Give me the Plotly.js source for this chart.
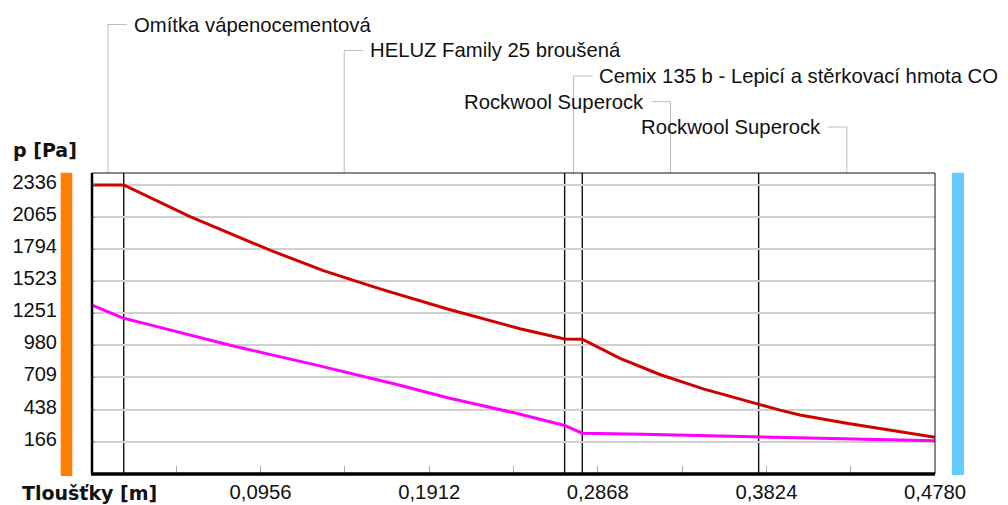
<!DOCTYPE html>
<html>
<head>
<meta charset="utf-8">
<script src="https://cdn.plot.ly/plotly-3.0.1.min.js"></script>
<style>
html,body{margin:0;padding:0;background:#fff;}
#chart{width:1008px;height:505px;}
</style>
</head>
<body>
<div id="chart"></div>
<script>
// ---- data ----
const layerNames = ['Omítka vápenocementová', 'HELUZ Family 25 broušená', 'Cemix 135 b - Lepicí a stěrkovací hmota CO', 'Rockwool Superock', 'Rockwool Superock'];
const layerThickness = [0.018, 0.25, 0.01, 0.1, 0.1];

const satX = [0, 0.018, 0.0556, 0.1009, 0.1312, 0.1633, 0.2016, 0.2427, 0.268, 0.278, 0.2994, 0.322, 0.3466, 0.3775, 0.3901, 0.4014, 0.428, 0.478];
const satP = [2336, 2336, 2068, 1785, 1612, 1458, 1288, 1121, 1034, 1032, 870, 734, 612, 482, 433, 392, 322, 203];

const parX = [0, 0.018, 0.0329, 0.0801, 0.1273, 0.1746, 0.2016, 0.2394, 0.268, 0.278, 0.3125, 0.359, 0.406, 0.4536, 0.478];
const parP = [1321, 1209, 1153, 975, 813, 643, 538, 410, 303, 238, 228, 214, 196, 180, 175];

const yTickVals = [166, 438, 709, 980, 1251, 1523, 1794, 2065, 2336];
const yTickLabels = ['166', '438', '709', '980', '1251', '1523', '1794', '2065', '2336'];
const xTickVals = [0.0478, 0.0956, 0.1434, 0.1912, 0.2390, 0.2868, 0.3346, 0.3824, 0.4302, 0.4780];
const xTickLabels = ['', '0,0956', '', '0,1912', '', '0,2868', '', '0,3824', '', '0,4780'];

const yAxisLabel = 'p [Pa]';
const xAxisLabel = 'Tloušťky [m]';

// ---- layout helpers ----
const plotTop = 173, plotBottom = 474, plotLeft = 92, plotRight = 935;
const plotH = plotBottom - plotTop, plotW = plotRight - plotLeft;
const py = p => (plotBottom - p) / plotH;   // pixel y -> paper y
const px = p => (p - plotLeft) / plotW;     // pixel x -> paper x

const bounds = [0];
layerThickness.forEach(t => bounds.push(bounds[bounds.length - 1] + t));
const centers = layerThickness.map((t, i) => (bounds[i] + bounds[i + 1]) / 2);

const labelRowsPx = [24.5, 50.5, 76, 101.7, 127];
const labelSide = [1, 1, 1, -1, -1];

const shapes = [];
const annotations = [];
const leaderColor = '#bdbdbd';
const txtFont = {family: 'Liberation Sans, Arial, sans-serif', size: 20.3, color: '#111'};

layerNames.forEach((name, i) => {
  const yy = py(labelRowsPx[i]);
  shapes.push({type: 'line', xref: 'x', yref: 'paper', x0: centers[i], x1: centers[i], y0: 1, y1: yy,
    line: {color: leaderColor, width: 1}});
  shapes.push({type: 'line', xref: 'x', yref: 'paper', xsizemode: 'pixel', xanchor: centers[i],
    x0: 0, x1: labelSide[i] * 19, y0: yy, y1: yy, line: {color: leaderColor, width: 1}});
  annotations.push({text: name, xref: 'x', yref: 'paper', x: centers[i], y: yy,
    xanchor: labelSide[i] > 0 ? 'left' : 'right', yanchor: 'middle',
    xshift: labelSide[i] * 24, showarrow: false, font: txtFont});
});

// layer boundaries
bounds.slice(1, -1).forEach(b => {
  shapes.push({type: 'line', xref: 'x', yref: 'paper', x0: b, x1: b, y0: 0, y1: 1,
    layer: 'between', line: {color: '#111', width: 1.4}});
});

// frame
shapes.push({type: 'rect', xref: 'paper', yref: 'paper', x0: 0, x1: 1, y0: 0, y1: 1,
  line: {color: '#111', width: 1}});
shapes.push({type: 'line', xref: 'paper', yref: 'paper', x0: 0, x1: 0, y0: 0, y1: 1,
  line: {color: '#000', width: 2.5}});
shapes.push({type: 'line', xref: 'paper', yref: 'paper', x0: px(91), x1: 1, y0: 0, y1: 0,
  line: {color: '#000', width: 3.5}});

// side colour bars
shapes.push({type: 'rect', xref: 'paper', yref: 'paper', x0: px(60.7), x1: px(72.3), y0: py(476), y1: py(172.7),
  fillcolor: '#ff8000', line: {width: 0}});
shapes.push({type: 'rect', xref: 'paper', yref: 'paper', x0: px(952), x1: px(964), y0: py(475), y1: py(172.7),
  fillcolor: '#66ccff', line: {width: 0}});

annotations.push({text: '<b>' + yAxisLabel + '</b>', xref: 'paper', yref: 'paper', x: px(44.5), y: py(150),
  xanchor: 'center', yanchor: 'middle', showarrow: false,
  font: {family: 'DejaVu Sans, sans-serif', size: 19, color: '#111'}});
annotations.push({text: '<b>' + xAxisLabel + '</b>', xref: 'paper', yref: 'paper', x: px(89.7), y: py(493),
  xanchor: 'center', yanchor: 'middle', showarrow: false,
  font: {family: 'DejaVu Sans, sans-serif', size: 19, color: '#111'}});

const traces = [
  {x: parX, y: parP, type: 'scatter', mode: 'lines', line: {color: '#ff00ff', width: 3}, hoverinfo: 'skip'},
  {x: satX, y: satP, type: 'scatter', mode: 'lines', line: {color: '#d00000', width: 3}, hoverinfo: 'skip'}
];

const layout = {
  width: 1008, height: 505,
  margin: {l: plotLeft, r: 1008 - plotRight, t: plotTop, b: 505 - plotBottom, pad: 0},
  paper_bgcolor: '#fff', plot_bgcolor: '#fff',
  showlegend: false,
  xaxis: {range: [0, 0.478], tickmode: 'array', tickvals: xTickVals, ticktext: xTickLabels,
    ticks: 'inside', ticklen: 8, tickwidth: 1, tickcolor: '#a8a8a8',
    showgrid: false, zeroline: false, showline: false, fixedrange: true,
    tickfont: txtFont, ticklabelstandoff: 4},
  yaxis: {range: [-107, 2437], tickmode: 'array', tickvals: yTickVals, ticktext: yTickLabels,
    ticks: 'inside', ticklen: 3, tickwidth: 1, tickcolor: '#888',
    showgrid: true, gridcolor: '#d0d0d0', gridwidth: 2, zeroline: false, showline: false, fixedrange: true,
    tickfont: {family: 'Liberation Sans, Arial, sans-serif', size: 20, color: '#111'},
    ticklabelstandoff: 34, ticklabelshift: -3},
  shapes: shapes,
  annotations: annotations
};

Plotly.newPlot('chart', traces, layout, {staticPlot: true, displayModeBar: false});
</script>
</body>
</html>
